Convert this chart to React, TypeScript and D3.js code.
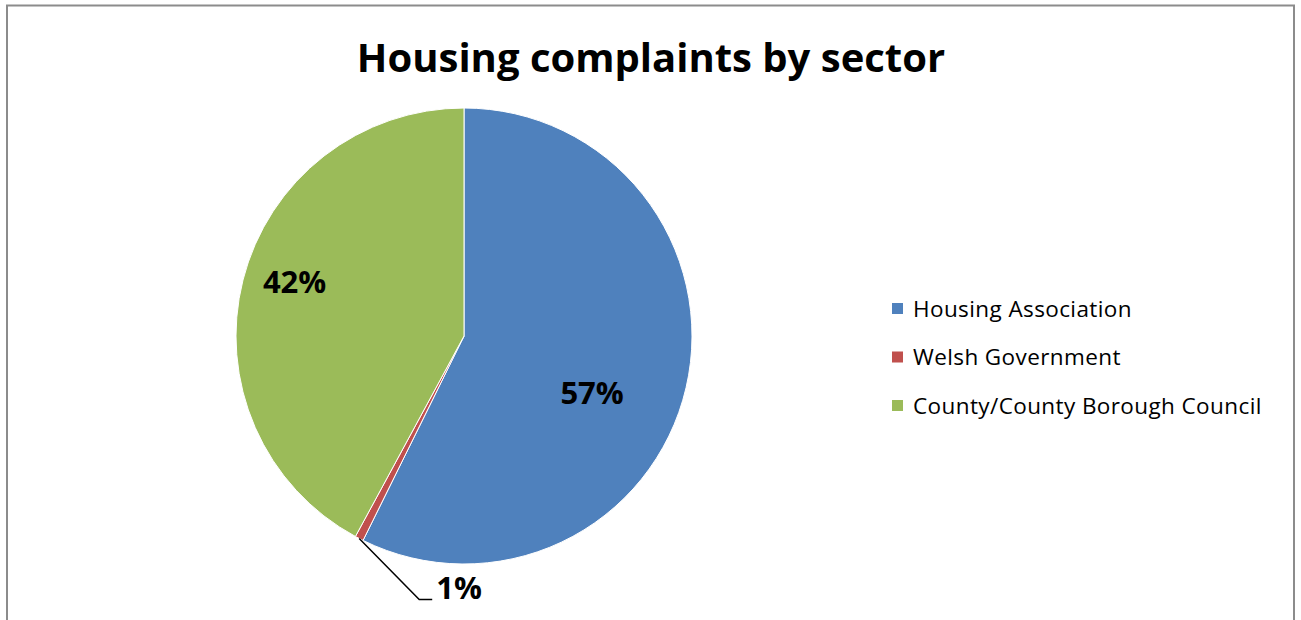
import React from "react";
import * as d3 from "d3";

const categories = ["Housing Association", "Welsh Government", "County/County Borough Council"];
const values = [57.3, 0.6, 42.1];
const valueLabels = ["57%", "1%", "42%"];
const colors = ["#4F81BD", "#C0504D", "#9BBB59"];
const title = "Housing complaints by sector";

const W = 1301;
const H = 620;
const cx = 464;
const cy = 336;
const R = 228;
const FONT = "'Open Sans', Lato, sans-serif";

// label placement (angle in degrees clockwise from top, radius as fraction of R)
const labelPlacement: ({ angle: number; r: number } | null)[] = [
  { angle: 114, r: 0.615 },
  null,
  { angle: 287.7, r: 0.78 },
];

export default function App() {
  const pie = d3.pie<number>().sort(null).value((d) => d);
  const arcs = pie(values);
  const arc = d3.arc<d3.PieArcDatum<number>>().innerRadius(0).outerRadius(R);

  const legendX = 892;
  const legendY0 = 309;
  const legendStep = 48.5;

  return (
    <svg width={W} height={H} style={{ position: "absolute", left: 0, top: 0, background: "#fff" }}>
      <rect x={7} y={5.5} width={1287} height={700} fill="#fff" stroke="#8c8c8c" strokeWidth={2} />
      <text x={651} y={72} textAnchor="middle" fontFamily={FONT} fontWeight="bold" fontSize={40} fill="#000">
        {title}
      </text>
      <g transform={`translate(${cx},${cy})`}>
        {arcs.map((a, i) => (
          <path key={i} d={arc(a) || ""} fill={colors[i]} stroke="#fff" strokeWidth={1} />
        ))}
        {arcs.map((a, i) => {
          const p = labelPlacement[i];
          if (p) {
            const t = (p.angle * Math.PI) / 180;
            const x = R * p.r * Math.sin(t);
            const y = -R * p.r * Math.cos(t);
            return (
              <text key={"l" + i} x={x} y={y} dy="0.35em" textAnchor="middle" fontFamily={FONT} fontWeight="bold" fontSize={31} fill="#000">
                {valueLabels[i]}
              </text>
            );
          }
          const mid = (a.startAngle + a.endAngle) / 2;
          const x0 = R * Math.sin(mid);
          const y0 = -R * Math.cos(mid);
          const x1 = x0 + 60;
          const y1 = y0 + 61;
          const x2 = x1 + 13;
          return (
            <g key={"l" + i}>
              <polyline points={`${x0},${y0} ${x1},${y1} ${x2},${y1}`} fill="none" stroke="#000" strokeWidth={1.5} />
              <text x={x2 + 4} y={y1 - 0.5} textAnchor="start" fontFamily={FONT} fontWeight="bold" fontSize={31} fill="#000">
                {valueLabels[i]}
              </text>
            </g>
          );
        })}
      </g>
      <g>
        {categories.map((c, i) => (
          <g key={c} transform={`translate(${legendX},${legendY0 + i * legendStep})`}>
            <rect x={0} y={-6} width={11} height={11} fill={colors[i]} />
            <text x={21} y={0} dy="0.35em" fontFamily={FONT} fontSize={22.5} letterSpacing={0.4} fill="#000">
              {c}
            </text>
          </g>
        ))}
      </g>
    </svg>
  );
}
